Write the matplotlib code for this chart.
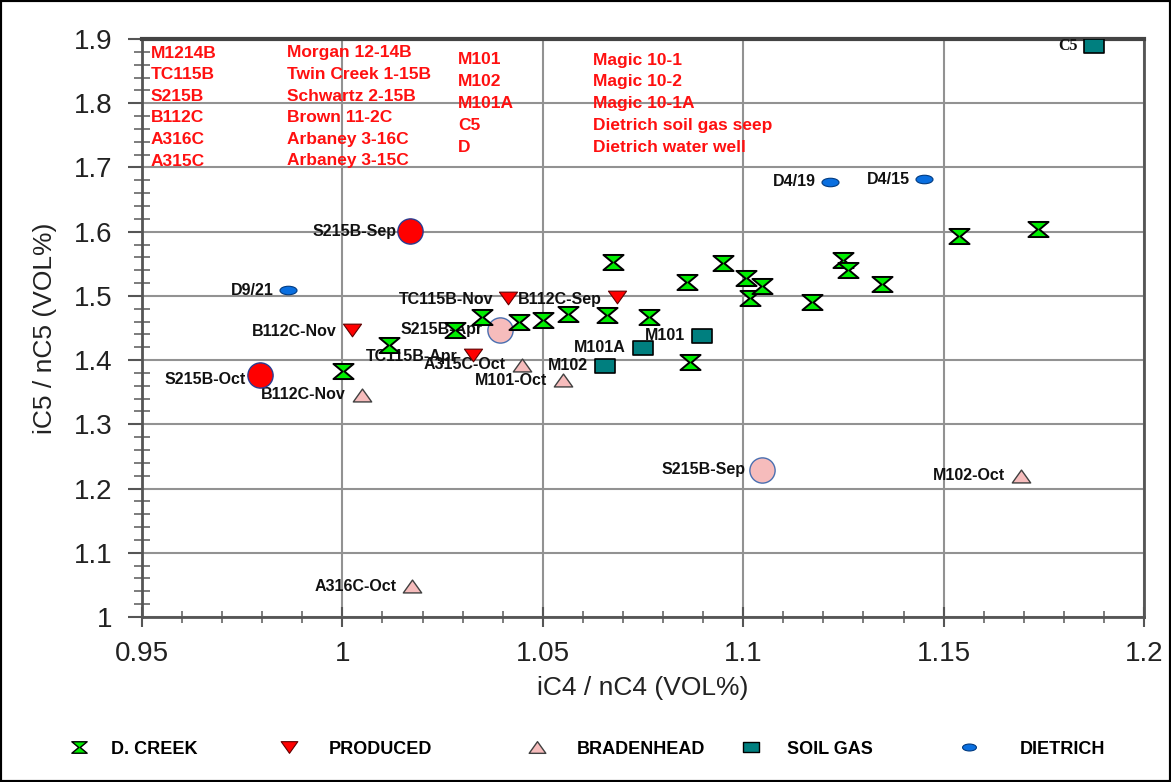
import numpy as np
import matplotlib
matplotlib.use("Agg")
import matplotlib.pyplot as plt
from matplotlib.path import Path
from matplotlib.lines import Line2D
from matplotlib.patches import Rectangle
from matplotlib.ticker import MultipleLocator, FuncFormatter

# ---------------- data ----------------
dcreek_x = [1.0002, 1.0116, 1.0281, 1.0348, 1.0441, 1.0500, 1.0563, 1.0660, 1.0675,
            1.0765, 1.0860, 1.0867, 1.0950, 1.1007, 1.1017, 1.1047, 1.1172, 1.1249,
            1.1261, 1.1346, 1.1538, 1.1736]
dcreek_y = [1.383, 1.424, 1.447, 1.467, 1.459, 1.463, 1.472, 1.470, 1.553,
            1.467, 1.522, 1.397, 1.551, 1.528, 1.497, 1.516, 1.491, 1.556,
            1.540, 1.519, 1.593, 1.604]

produced_x = [1.0024, 1.0413, 1.0326, 1.0685]
produced_y = [1.447, 1.497, 1.408, 1.498]
produced_labels = ["B112C-Nov", "TC115B-Nov", "TC115B-Apr", "B112C-Sep"]

produced_big_x = [1.0169, 0.9794]
produced_big_y = [1.601, 1.377]
produced_big_labels = ["S215B-Sep", "S215B-Oct"]

braden_x = [1.0049, 1.0448, 1.0550, 1.0174, 1.1693]
braden_y = [1.346, 1.393, 1.369, 1.048, 1.220]
braden_labels = ["B112C-Nov", "A315C-Oct", "M101-Oct", "A316C-Oct", "M102-Oct"]

braden_big_x = [1.0393, 1.1047]
braden_big_y = [1.447, 1.229]
braden_big_labels = ["S215B-Apr", "S215B-Sep"]

soil_x = [1.0897, 1.0750, 1.0655, 1.1875]
soil_y = [1.438, 1.419, 1.391, 1.889]
soil_labels = ["M101", "M101A", "M102", "C5"]

dietrich_x = [0.9864, 1.1217, 1.1451]
dietrich_y = [1.509, 1.678, 1.682]
dietrich_labels = ["D9/21", "D4/19", "D4/15"]

legend_names = ["D. CREEK", "PRODUCED", "BRADENHEAD", "SOIL GAS", "DIETRICH"]

key_col1 = ["M1214B", "TC115B", "S215B", "B112C", "A316C", "A315C"]
key_col2 = ["Morgan 12-14B", "Twin Creek 1-15B", "Schwartz 2-15B", "Brown 11-2C",
            "Arbaney 3-16C", "Arbaney 3-15C"]
key_col3 = ["M101", "M102", "M101A", "C5", "D"]
key_col4 = ["Magic 10-1", "Magic 10-2", "Magic 10-1A", "Dietrich soil gas seep",
            "Dietrich water well"]

# ---------------- figure ----------------
W, H, DPI = 1171, 782, 100
plt.rcParams["font.family"] = ["Liberation Sans", "DejaVu Sans"]
fig = plt.figure(figsize=(W / DPI, H / DPI), dpi=DPI)
fig.patch.set_facecolor("white")

L, R, T, B = 142, 1144, 39, 617
ax = fig.add_axes([L / W, 1 - B / H, (R - L) / W, (B - T) / H])


def fx(px):
    return px / W


def fy(py):
    return 1 - py / H


# custom markers
hourglass = Path([(-1, 0.75), (1, 0.75), (0.1, 0), (1, -0.75), (-1, -0.75), (-0.1, 0), (-1, 0.75)],
                 [Path.MOVETO] + [Path.LINETO] * 5 + [Path.CLOSEPOLY])
tri_down = Path([(-1, 0.7), (1, 0.7), (0, -0.7), (-1, 0.7)],
                [Path.MOVETO, Path.LINETO, Path.LINETO, Path.CLOSEPOLY])
tri_up = Path([(-1, -0.7), (1, -0.7), (0, 0.7), (-1, -0.7)],
              [Path.MOVETO, Path.LINETO, Path.LINETO, Path.CLOSEPOLY])
rect = Path([(-1, -0.68), (1, -0.68), (1, 0.68), (-1, 0.68), (-1, -0.68)],
            [Path.MOVETO] + [Path.LINETO] * 3 + [Path.CLOSEPOLY])
uc = Path.unit_circle()
ellipse = Path(uc.vertices * np.array([1.0, 0.5]), uc.codes)

GREEN, RED, PINK, TEAL, BLUE = "#00ee00", "#ff0000", "#f6bcbc", "#007f7f", "#0a6fe0"

ax.scatter(braden_big_x, braden_big_y, s=330, marker="o", facecolor=PINK,
           edgecolor="#4a6fb0", linewidth=1.0, zorder=3)
ax.scatter(dcreek_x, dcreek_y, s=210, marker=hourglass, facecolor=GREEN,
           edgecolor="black", linewidth=1.4, zorder=4)
ax.scatter(produced_x, produced_y, s=170, marker=tri_down, facecolor=RED,
           edgecolor="#600000", linewidth=0.8, zorder=4)
ax.scatter(produced_big_x, produced_big_y, s=330, marker="o", facecolor=RED,
           edgecolor="#2a3c90", linewidth=1.0, zorder=4)
ax.scatter(braden_x, braden_y, s=175, marker=tri_up, facecolor=PINK,
           edgecolor="#404040", linewidth=1.0, zorder=4)
ax.scatter(soil_x, soil_y, s=190, marker=rect, facecolor=TEAL,
           edgecolor="black", linewidth=1.2, zorder=4)
ax.scatter(dietrich_x, dietrich_y, s=150, marker=ellipse, facecolor=BLUE,
           edgecolor="#003a80", linewidth=0.8, zorder=4)


def label_points(xs, ys, labels, dx=-15, dy=0, family=None):
    for x, y, t in zip(xs, ys, labels):
        ddy = dy
        if t == "S215B-Oct":
            ddy = -5
        kw = dict(fontsize=11.5, fontweight="bold", color="#111111",
                  ha="right", va="center", zorder=3.5)
        if family:
            kw["family"] = family
        ax.annotate(t, (x, y), xytext=(dx, ddy), textcoords="offset pixels", **kw)


label_points(produced_x, produced_y, produced_labels, dx=-15, dy=-2)
label_points(produced_big_x, produced_big_y, produced_big_labels, dx=-14)
label_points(braden_x, braden_y, braden_labels, dx=-16)
label_points(braden_big_x, braden_big_y, braden_big_labels, dx=-17)
label_points(soil_x[:3], soil_y[:3], soil_labels[:3], dx=-17)
label_points(soil_x[3:], soil_y[3:], soil_labels[3:], dx=-16, family="Liberation Serif")
label_points(dietrich_x, dietrich_y, dietrich_labels, dx=-14)

# axes formatting
ax.set_xlim(0.95, 1.2)
ax.set_ylim(1.0, 1.9)
ax.xaxis.set_major_locator(MultipleLocator(0.05))
ax.xaxis.set_minor_locator(MultipleLocator(0.01))
ax.yaxis.set_major_locator(MultipleLocator(0.1))
ax.yaxis.set_minor_locator(MultipleLocator(0.02))
fmt = FuncFormatter(lambda v, p: f"{round(v, 2):g}")
ax.xaxis.set_major_formatter(fmt)
ax.yaxis.set_major_formatter(fmt)
ax.grid(True, which="major", color="#929292", linewidth=1.5, zorder=0)
ax.set_axisbelow(True)

ax.tick_params(axis="x", which="major", direction="inout", length=14, width=1.5,
               color="#555555", labelsize=20, labelcolor="#222222", pad=10)
ax.tick_params(axis="x", which="minor", direction="inout", length=9, width=1.2, color="#666666")
ax.tick_params(axis="y", which="major", direction="out", length=10, width=1.5,
               color="#555555", labelsize=20, labelcolor="#222222", pad=11)
ax.tick_params(axis="y", which="minor", direction="inout", length=12, width=1.2, color="#666666")

for side in ["left", "right", "bottom"]:
    ax.spines[side].set_color("#555555")
    ax.spines[side].set_linewidth(2)
ax.spines["top"].set_color("#444444")
ax.spines["top"].set_linewidth(3)

ax.set_xlabel("iC4 / nC4 (VOL%)", fontsize=19, color="#222222")
ax.set_ylabel("iC5 / nC5 (VOL%)", fontsize=19, color="#222222")
ax.xaxis.set_label_coords(0.5, (B - 676) / (B - T))
ax.yaxis.set_label_coords((57 - L) / (R - L), 0.5)

# red key text block
kfont = dict(fontsize=12.5, fontweight="bold", color="#ff1010", ha="left", va="center")
for i, (a, b) in enumerate(zip(key_col1, key_col2)):
    yy = 53 + i * 21.6
    fig.text(fx(151), fy(yy), a, **kfont)
    fig.text(fx(287), fy(yy), b, **kfont)
for i, (a, b) in enumerate(zip(key_col3, key_col4)):
    yy = 60 + i * 21.8
    fig.text(fx(458), fy(yy), a, **kfont)
    fig.text(fx(593), fy(yy), b, **kfont)

# legend (one entry per series, placed along the bottom)
leg_handles = [
    Line2D([], [], linestyle="none", marker=hourglass, markersize=11, markerfacecolor=GREEN,
           markeredgecolor="black", markeredgewidth=1.0),
    Line2D([], [], linestyle="none", marker=tri_down, markersize=12, markerfacecolor=RED,
           markeredgecolor="#600000", markeredgewidth=0.8),
    Line2D([], [], linestyle="none", marker=tri_up, markersize=12, markerfacecolor=PINK,
           markeredgecolor="#404040", markeredgewidth=1.0),
    Line2D([], [], linestyle="none", marker=rect, markersize=11, markerfacecolor=TEAL,
           markeredgecolor="black", markeredgewidth=1.0),
    Line2D([], [], linestyle="none", marker=ellipse, markersize=10, markerfacecolor=BLUE,
           markeredgecolor="#003a80", markeredgewidth=0.8),
]
leg_x = [68, 278, 526, 740, 958]
leg_pad = [1.2, 1.6, 1.6, 1.4, 2.2]
for h, name, x0, tp in zip(leg_handles, legend_names, leg_x, leg_pad):
    fig.legend(handles=[h], labels=[name], loc="center left",
               bbox_to_anchor=(fx(x0), fy(749)), frameon=False, borderpad=0,
               borderaxespad=0, handlelength=1.2, handletextpad=tp,
               prop=dict(family="Liberation Sans", weight="bold", size=13))

# outer frame
fig.patches.append(Rectangle((0, 0), 1, 1, transform=fig.transFigure, fill=False,
                             edgecolor="black", linewidth=3))

fig.savefig("out.png", dpi=DPI)
